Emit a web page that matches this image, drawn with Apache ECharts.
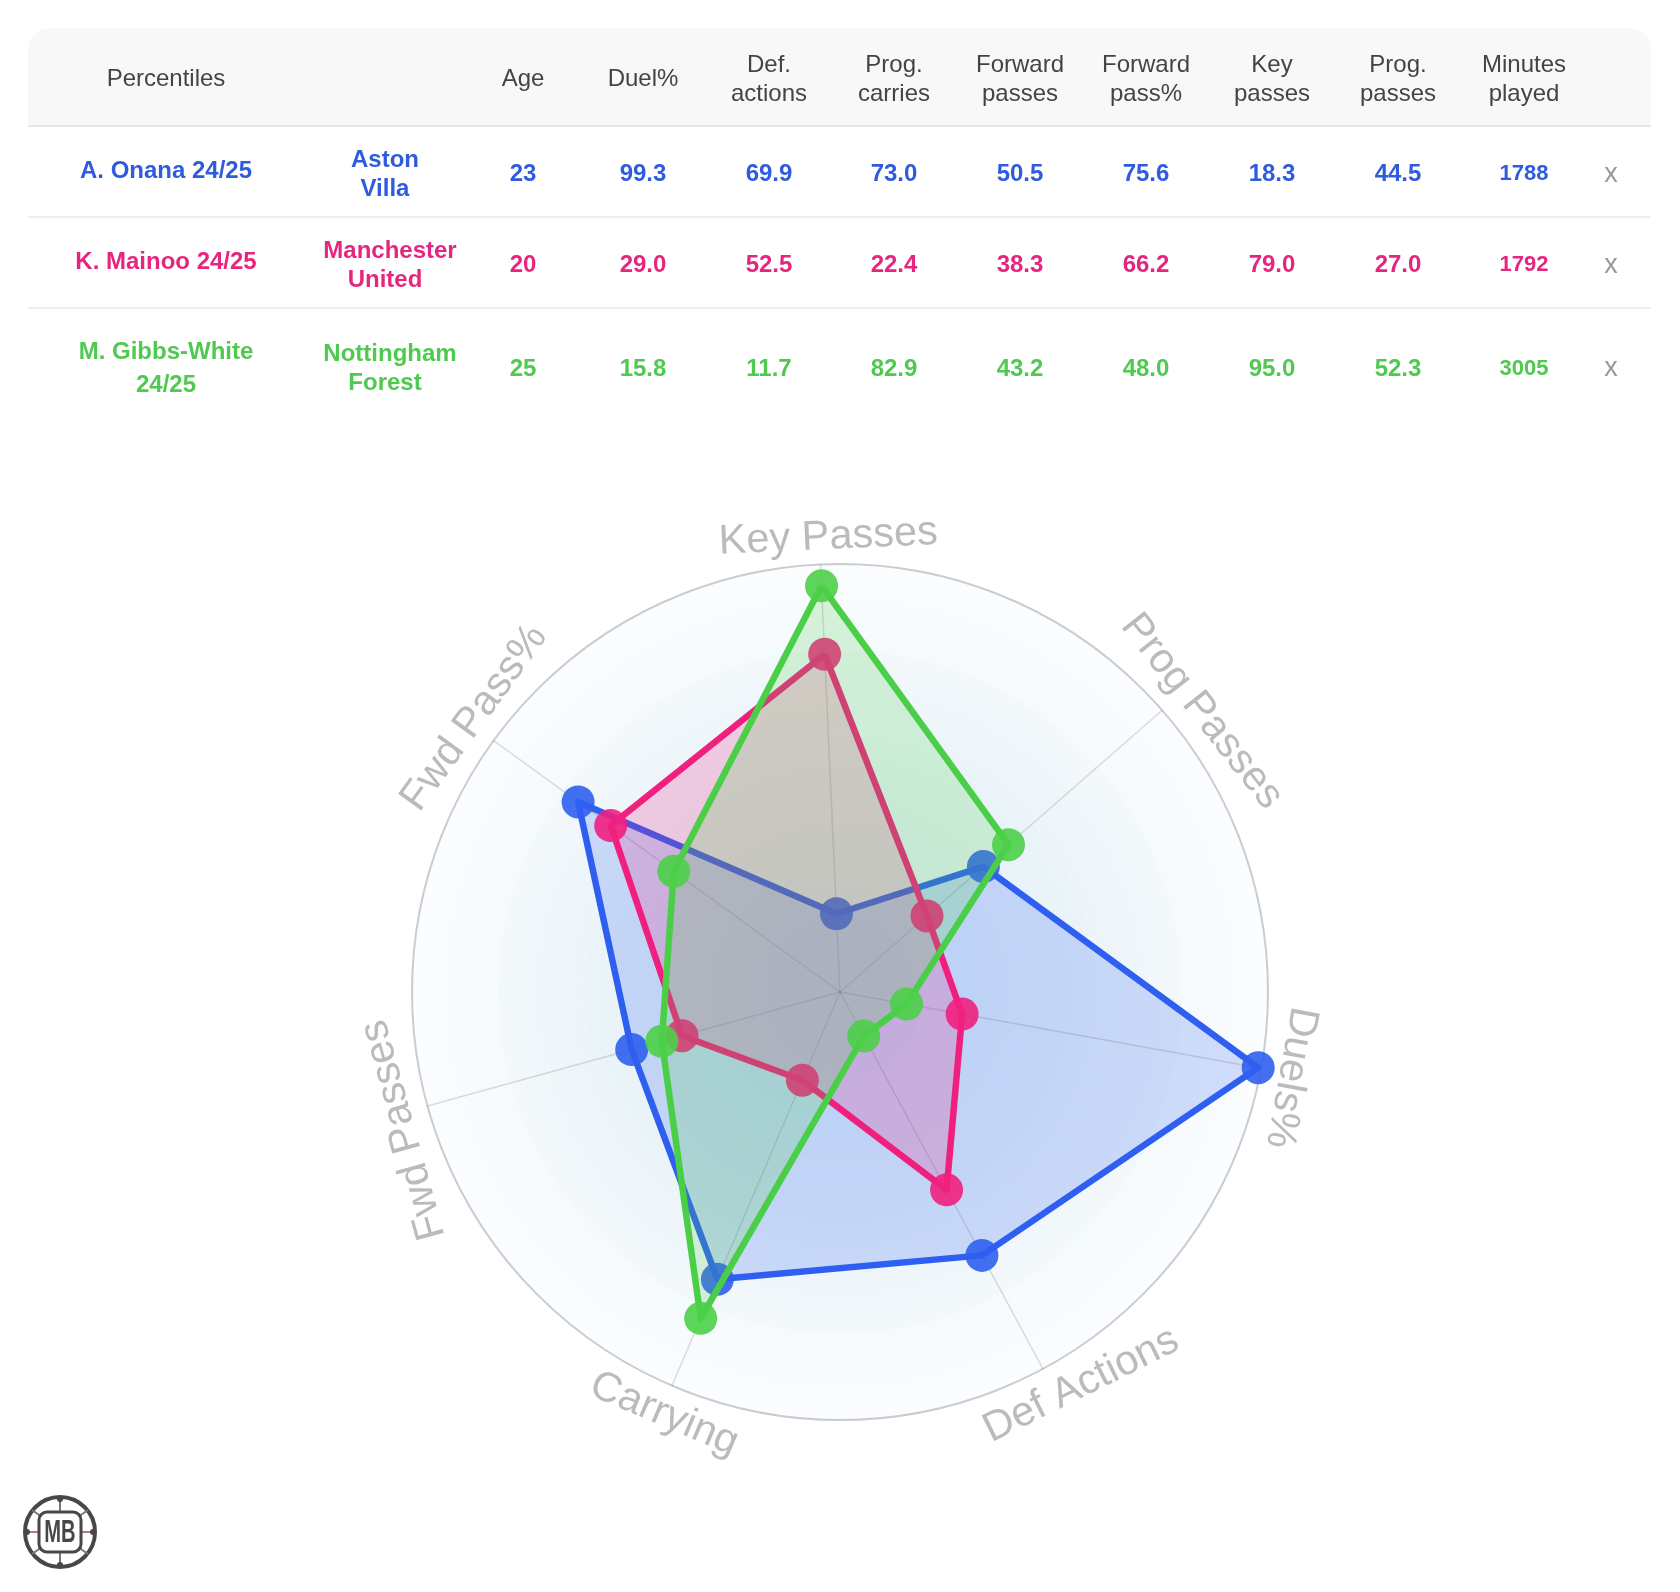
<!DOCTYPE html>
<html>
<head>
<meta charset="utf-8">
<title>Percentiles</title>
<script src="https://cdn.jsdelivr.net/npm/echarts@6/dist/echarts.min.js"></script>
<style>
  html, body { margin: 0; padding: 0; background: #fff; }
  #main { width: 1680px; height: 1592px; }
</style>
</head>
<body>
<div id="main"></div>
<script>
// radar axes, counter-clockwise from the top
const axisNames = ['Key Passes', 'Fwd Pass%', 'Fwd Passes', 'Carrying', 'Def Actions', 'Duels%', 'Prog Passes'];
const onanaValues = [18.3, 75.6, 50.5, 73.0, 69.9, 99.3, 44.5];
const mainooValues = [79.0, 66.2, 38.3, 22.4, 52.5, 29.0, 27.0];
const gibbsValues = [95.0, 48.0, 43.2, 82.9, 11.7, 15.8, 52.3];

// table
const headers = ['Percentiles', '', 'Age', 'Duel%', 'Def.\nactions', 'Prog.\ncarries', 'Forward\npasses', 'Forward\npass%', 'Key\npasses', 'Prog.\npasses', 'Minutes\nplayed'];
const onanaRow = ['A. Onana 24/25', 'Aston\nVilla', '23', '99.3', '69.9', '73.0', '50.5', '75.6', '18.3', '44.5', '1788'];
const mainooRow = ['K. Mainoo 24/25', 'Manchester\nUnited', '20', '29.0', '52.5', '22.4', '38.3', '66.2', '79.0', '27.0', '1792'];
const gibbsRow = ['M. Gibbs-White\n24/25', 'Nottingham\nForest', '25', '15.8', '11.7', '82.9', '43.2', '48.0', '95.0', '52.3', '3005'];

const BLUE = '#2f5ff0';
const PINK = '#f0207f';
const GREEN = '#4ccf48';
const FONT = '"Liberation Sans", Arial, sans-serif';

const cx = 840, cy = 992, radius = 428;
const startAngle = 92.6;
const columnX = [166, 385, 523, 643, 769, 894, 1020, 1146, 1272, 1398, 1524];

// hand nudges for the rim labels, same order as axisNames
const labelNudgeX = [9, 5, 5, 4, 24, 0, 17];
const labelNudgeY = [3, -5, 16, 1, -10, 4, 21];
const labelTilt = [0, 0, 0, 0, -2, 0, -3];

function txt(x, y, text, size, color, bold, extra) {
  return Object.assign({
    type: 'text',
    x: x,
    y: y,
    z: 10,
    style: {
      text: text,
      fill: color,
      font: (bold ? 'bold ' : '') + size + 'px ' + FONT,
      align: 'center',
      verticalAlign: 'middle',
      lineHeight: 29
    }
  }, extra || {});
}

function rowLine(y, color, width) {
  return {
    type: 'line',
    shape: { x1: 28, y1: y, x2: 1651, y2: y },
    style: { stroke: color, lineWidth: width },
    z: 5
  };
}

function tableGraphics() {
  const out = [];
  out.push({
    type: 'rect',
    shape: { x: 28, y: 28, width: 1623, height: 98, r: [22, 22, 0, 0] },
    style: { fill: '#f8f8f8' },
    z: 1
  });
  out.push(rowLine(126, '#e6e6e6', 2));
  out.push(rowLine(217, '#eeeeee', 2));
  out.push(rowLine(308, '#eeeeee', 2));

  headers.forEach((h, i) => {
    if (h) out.push(txt(columnX[i], 79.5, h, 24, '#444444', false));
  });

  const rows = [
    { cells: onanaRow, color: '#2f5bde', nameY: 171, teamY: 175, valueY: 174, xY: 175 },
    { cells: mainooRow, color: '#e6267e', nameY: 262, teamY: 266, valueY: 265, xY: 266 },
    { cells: gibbsRow, color: '#4fc94f', nameY: 369, teamY: 369, valueY: 369, xY: 369 }
  ];
  rows.forEach((r) => {
    r.cells.forEach((c, i) => {
      if (i === 1) {
        // long club names overflow their cell to the right
        const lines = c.split('\n');
        lines.forEach((line, k) => {
          const nudge = line.length >= 10 ? 5 : 0;
          out.push(txt(columnX[i] + nudge, r.teamY - 14.5 + k * 29, line, 24, r.color, true));
        });
        return;
      }
      let y = r.valueY;
      let size = 24;
      if (i === 0) y = r.nameY;
      if (i === 10) size = 22;
      const g = txt(columnX[i], y, c, size, r.color, true);
      if (i === 0 && c.indexOf('\n') > -1) g.style.lineHeight = 33;
      out.push(g);
    });
    out.push(txt(1611, r.xY, 'x', 27, '#999999', false));
  });
  return out;
}

// axis names follow the rim, the two at the bottom stay readable
function axisLabelGraphics() {
  return axisNames.map((name, i) => {
    const deg = startAngle + i * 360 / axisNames.length;
    const rad = deg * Math.PI / 180;
    const x = cx + 458 * Math.cos(rad) + labelNudgeX[i];
    const y = cy - 458 * Math.sin(rad) + labelNudgeY[i];
    let rot = deg - 90 + labelTilt[i];
    if (name === 'Carrying' || name === 'Def Actions') rot += 180;
    return txt(x, y, name, 41.5, '#bbbbbb', false, { rotation: rot * Math.PI / 180 });
  });
}

function logoGraphics() {
  const lx = 60, ly = 1532, stroke = '#474747';
  const out = [];
  out.push({ type: 'circle', shape: { cx: lx, cy: ly, r: 35 }, style: { fill: '#fff', stroke: stroke, lineWidth: 4 }, z: 6 });
  [[lx, ly - 35, lx, ly - 21, '#777'], [lx, ly + 21, lx, ly + 35, '#777'],
   [lx - 35, ly, lx - 21, ly, '#b07a80'], [lx + 21, ly, lx + 35, ly, '#b07a80'],
   [lx - 28, ly - 22, lx - 18, ly - 15, '#777'], [lx + 18, ly - 15, lx + 28, ly - 22, '#777'],
   [lx - 28, ly + 22, lx - 18, ly + 15, '#777'], [lx + 18, ly + 15, lx + 28, ly + 22, '#777']
  ].forEach((s) => {
    out.push({ type: 'line', shape: { x1: s[0], y1: s[1], x2: s[2], y2: s[3] }, style: { stroke: s[4], lineWidth: 2 }, z: 6 });
  });
  [[lx, ly - 33], [lx, ly + 33], [lx - 33, ly], [lx + 33, ly]].forEach((p) => {
    out.push({ type: 'circle', shape: { cx: p[0], cy: p[1], r: 3 }, style: { fill: stroke }, z: 6 });
  });
  out.push({ type: 'rect', shape: { x: lx - 21, y: ly - 20, width: 42, height: 40, r: 8 }, style: { fill: '#fff', stroke: stroke, lineWidth: 3 }, z: 7 });
  out.push(txt(lx, ly + 1, 'MB', 31, stroke, true, { z: 8, scaleX: 0.65 }));
  return out;
}

function ringFill(r0, r1, inner, outer) {
  return {
    type: 'radial',
    x: cx,
    y: cy,
    r: radius * r1,
    global: true,
    colorStops: [
      { offset: 0, color: inner },
      { offset: r0 / r1, color: inner },
      { offset: 1, color: outer }
    ]
  };
}

function radarSeries(name, values, color, z) {
  return {
    type: 'radar',
    z: z,
    name: name,
    symbol: 'circle',
    symbolSize: 33,
    lineStyle: { color: color, width: 6.5 },
    itemStyle: { color: color, opacity: 0.9 },
    areaStyle: { color: color, opacity: 0.2 },
    data: [{ name: name, value: values }]
  };
}

const chart = echarts.init(document.getElementById('main'), null, { renderer: 'canvas' });

chart.setOption({
  backgroundColor: '#ffffff',
  animation: false,
  radar: {
    center: [cx, cy],
    radius: radius,
    startAngle: startAngle,
    shape: 'circle',
    splitNumber: 5,
    indicator: axisNames.map((n) => ({ name: n, min: 0, max: 100 })),
    axisName: { show: false },
    axisLine: { lineStyle: { color: 'rgba(90,90,90,0.2)', width: 1.5 } },
    axisTick: { show: false },
    splitLine: {
      lineStyle: {
        color: ['transparent', 'transparent', 'transparent', 'transparent', 'transparent', '#c9ccd3'],
        width: 2
      }
    },
    splitArea: {
      areaStyle: {
        color: [
          ringFill(0, 0.2, '#dcebf7', '#dfedf7'),
          ringFill(0.2, 0.4, '#e0eef8', '#e5f0f8'),
          ringFill(0.4, 0.6, '#e6f1f8', '#ebf4f9'),
          ringFill(0.6, 0.8, '#edf5fa', '#f3f8fb'),
          ringFill(0.8, 1, '#f5fafd', '#fbfdfe')
        ]
      }
    }
  },
  series: [
    radarSeries('A. Onana 24/25', onanaValues, BLUE, 2),
    radarSeries('K. Mainoo 24/25', mainooValues, PINK, 3),
    radarSeries('M. Gibbs-White 24/25', gibbsValues, GREEN, 4)
  ],
  graphic: { elements: tableGraphics().concat(axisLabelGraphics(), logoGraphics()) }
});
</script>
</body>
</html>
